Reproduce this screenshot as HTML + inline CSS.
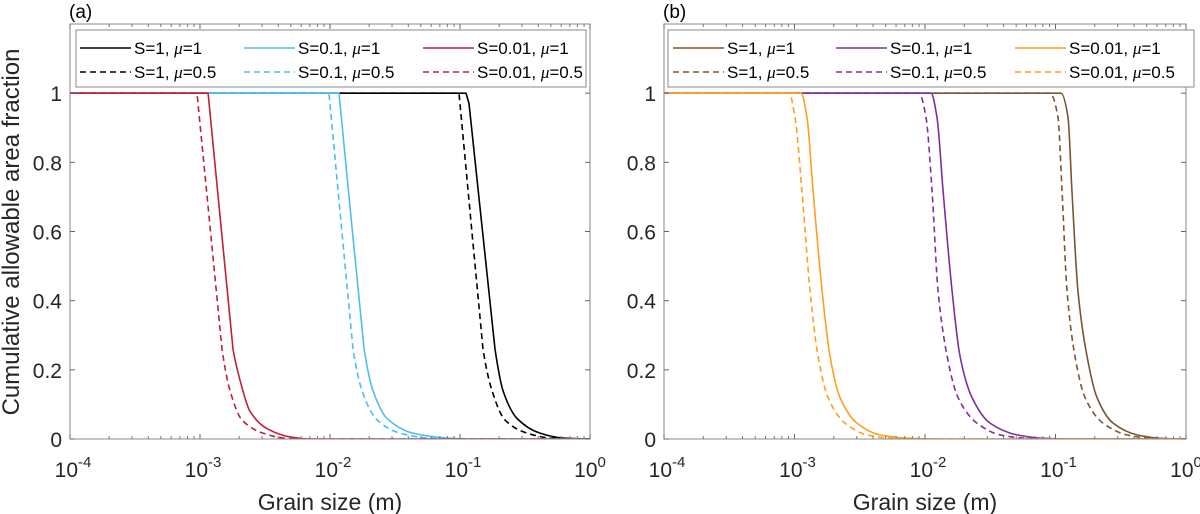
<!DOCTYPE html>
<html><head><meta charset="utf-8"><style>
html,body{margin:0;padding:0;background:#fff;}
svg{display:block;font-family:"Liberation Sans",sans-serif;}
</style></head><body>
<svg id="fig" width="1200" height="514" viewBox="0 0 1200 514" xmlns="http://www.w3.org/2000/svg"></svg>
<script>
// ---- data ----
const yTicks = [0, 0.2, 0.4, 0.6, 0.8, 1];
const yTickLabels = ["0", "0.2", "0.4", "0.6", "0.8", "1"];
const xDecades = [-4, -3, -2, -1, 0];
// panel (a): log10 grain size and fraction
const aBlackSolidX = [-4, -0.954, -0.931, -0.831, -0.731, -0.669, -0.562, -0.385, -0.208, 0];
const aBlackSolidY = [1, 1, 0.97, 0.615, 0.26, 0.14, 0.06, 0.017, 0.003, 0];
const aBlackDashX = [-4, -1.008, -0.916, -0.823, -0.754, -0.654, -0.485, -0.308, -0.115, 0];
const aBlackDashY = [1, 1, 0.63, 0.26, 0.14, 0.055, 0.017, 0.003, 0, 0];
const aBlueSolidX = [-4, -1.931, -1.835, -1.738, -1.669, -1.562, -1.362, -1.1, -0.923, 0];
const aBlueSolidY = [1, 1, 0.63, 0.26, 0.14, 0.06, 0.017, 0.003, 0, 0];
const aBlueDashX = [-4, -2.008, -1.916, -1.823, -1.754, -1.638, -1.462, -1.254, -1.077, 0];
const aBlueDashY = [1, 1, 0.63, 0.26, 0.14, 0.055, 0.017, 0.003, 0, 0];
const aRedSolidX = [-4, -2.938, -2.842, -2.746, -2.692, -2.615, -2.485, -2.308, -2.154, 0];
const aRedSolidY = [1, 1, 0.63, 0.26, 0.17, 0.08, 0.03, 0.006, 0, 0];
const aRedDashX = [-4, -3.023, -2.927, -2.831, -2.769, -2.677, -2.515, -2.362, -2.231, 0];
const aRedDashY = [1, 1, 0.63, 0.26, 0.14, 0.055, 0.017, 0.003, 0, 0];
// panel (b)
const bCurveY = [1, 1, 0.93, 0.72, 0.43, 0.24, 0.12, 0.046, 0.012, 0.002, 0, 0];
const bBrownSolidX = [-4, -0.958, -0.904, -0.874, -0.828, -0.759, -0.682, -0.559, -0.375, -0.199, -0.05, 0];
const bBrownDashX = [-4, -1.042, -0.981, -0.950, -0.912, -0.851, -0.774, -0.636, -0.452, -0.276, -0.1, 0];
const bPurpleSolidX = [-4, -1.954, -1.908, -1.862, -1.793, -1.732, -1.640, -1.502, -1.295, -1.096, -0.9, 0];
const bPurpleDashX = [-4, -2.046, -1.992, -1.946, -1.900, -1.831, -1.747, -1.602, -1.425, -1.218, -1.0, 0];
const bOrangeSolidX = [-4, -2.950, -2.904, -2.858, -2.789, -2.728, -2.651, -2.521, -2.345, -2.115, -1.9, 0];
const bOrangeDashX = [-4, -3.042, -2.996, -2.943, -2.881, -2.820, -2.743, -2.613, -2.444, -2.245, -2.0, 0];

const NS = "http://www.w3.org/2000/svg";
const svg = document.getElementById("fig");
function mk(tag, attrs, parent) {
  const e = document.createElementNS(NS, tag);
  for (const k in attrs) e.setAttribute(k, attrs[k]);
  (parent || svg).appendChild(e);
  return e;
}
const TOP = 24, BOT = 439, YMAX = 1.2;
function yScale(v) { return BOT - v / YMAX * (BOT - TOP); }

// monotone cubic path; segments whose both ends are above straightY are drawn straight
function monoPath(px, py, vy, straightY) {
  const n = px.length;
  const d = [], m = new Array(n).fill(0);
  for (let i = 0; i < n - 1; i++) d.push((py[i + 1] - py[i]) / Math.max(px[i + 1] - px[i], 1e-6));
  m[0] = d[0]; m[n - 1] = d[n - 2];
  for (let i = 1; i < n - 1; i++) {
    if (d[i - 1] * d[i] <= 0) m[i] = 0;
    else {
      const h0 = px[i] - px[i - 1], h1 = px[i + 1] - px[i];
      const w1 = 2 * h1 + h0, w2 = h1 + 2 * h0;
      m[i] = (w1 + w2) / (w1 / d[i - 1] + w2 / d[i]);
    }
  }
  let s = "M" + px[0].toFixed(1) + "," + py[0].toFixed(1);
  for (let i = 0; i < n - 1; i++) {
    if (vy[i] >= straightY && vy[i + 1] >= straightY) {
      s += "L" + px[i + 1].toFixed(1) + "," + py[i + 1].toFixed(1);
      continue;
    }
    const h = px[i + 1] - px[i];
    s += "C" + (px[i] + h / 3).toFixed(1) + "," + (py[i] + m[i] * h / 3).toFixed(1) + " " +
      (px[i + 1] - h / 3).toFixed(1) + "," + (py[i + 1] - m[i + 1] * h / 3).toFixed(1) + " " +
      px[i + 1].toFixed(1) + "," + py[i + 1].toFixed(1);
  }
  return s;
}

function panel(id, L, R, letter, series, legend, straightY) {
  const g = mk("g", {});
  
  
  const xs = v => L + (v + 4) / 4 * (R - L);
  const cp = mk("clipPath", { id: "clip" + id }, g);
  mk("rect", { x: L, y: TOP, width: R - L, height: BOT - TOP }, cp);
  const sg = mk("g", { "clip-path": "url(#clip" + id + ")" }, g);
  series.forEach(s => {
    const px = s.x.map(xs), py = s.y.map(yScale);
    const p = mk("path", { d: monoPath(px, py, s.y, straightY), fill: "none", stroke: s.color, "stroke-width": 1.6, "stroke-linejoin": "round" }, sg);
    if (s.dash) p.setAttribute("stroke-dasharray", "6 4");
    
    
  });
  const box = mk("rect", { x: L, y: TOP, width: R - L, height: BOT - TOP, fill: "none", stroke: "#8a8a8a", "stroke-width": 1 }, g);
  
  
  xDecades.forEach((dcd, i) => {
    const x = xs(dcd);
    mk("line", { x1: x, y1: BOT, x2: x, y2: BOT - 5, stroke: "#666" }, g);
    mk("line", { x1: x, y1: TOP, x2: x, y2: TOP + 5, stroke: "#666" }, g);
    const t = mk("text", { x: x + (i === 4 ? 0 : 3), y: 477, "font-size": 21, fill: "#262626", "text-anchor": "middle" }, g);
    t.textContent = "10";
    const sup = mk("tspan", { dy: -10, "font-size": 15 }, t);
    sup.textContent = String(dcd);
    
    
    if (i < 4) for (let m = 2; m <= 9; m++) {
      const xm = xs(dcd + Math.log10(m));
      mk("line", { x1: xm, y1: BOT, x2: xm, y2: BOT - 3, stroke: "#777" }, g);
      mk("line", { x1: xm, y1: TOP, x2: xm, y2: TOP + 3, stroke: "#777" }, g);
    }
  });
  yTicks.forEach((v, i) => {
    const y = yScale(v);
    mk("line", { x1: L, y1: y, x2: L + 5, y2: y, stroke: "#666" }, g);
    mk("line", { x1: R, y1: y, x2: R - 5, y2: y, stroke: "#666" }, g);
    const t = mk("text", { x: L - 8, y: y + 8, "font-size": 21, fill: "#262626", "text-anchor": "end" }, g);
    t.textContent = yTickLabels[i];
    
    
  });
  const xl = mk("text", { x: (L + R) / 2, y: 510, "font-size": 23, fill: "#262626", "text-anchor": "middle" }, g);
  xl.textContent = "Grain size (m)";
  
  
  const pl = mk("text", { x: L - 1, y: 18, "font-size": 19, fill: "#000" }, g);
  pl.textContent = "(" + letter + ")";
  
  
  const lg = mk("g", {}, g);
  
  
  mk("rect", { x: legend.x0, y: 30, width: legend.x1 - legend.x0, height: 57, fill: "#fff", stroke: "#8a8a8a" }, lg);
  series.forEach((s, i) => {
    const col = legend.cols[Math.floor(i / 2)];
    const y = i % 2 ? 72 : 48;
    mk("line", { x1: col, y1: y, x2: col + 51, y2: y, stroke: s.color, "stroke-width": 1.6, "stroke-dasharray": s.dash ? "6 4" : "none" }, lg);
    const t = mk("text", { x: col + 54, y: y + 6, "font-size": 17, fill: "#000" }, lg);
    t.innerHTML = s.label;
    
    
  });
}
const mu = '<tspan font-family="Liberation Serif" font-style="italic">μ</tspan>';
panel("a", 70, 590, "a", [
  { x: aBlackSolidX, y: aBlackSolidY, color: "#000", dash: false, name: "s1-mu1-line", label: "S=1, " + mu + "=1" },
  { x: aBlackDashX, y: aBlackDashY, color: "#000", dash: true, name: "s1-mu05-line", label: "S=1, " + mu + "=0.5" },
  { x: aBlueSolidX, y: aBlueSolidY, color: "#4DBEEE", dash: false, name: "s01-mu1-line", label: "S=0.1, " + mu + "=1" },
  { x: aBlueDashX, y: aBlueDashY, color: "#4DBEEE", dash: true, name: "s01-mu05-line", label: "S=0.1, " + mu + "=0.5" },
  { x: aRedSolidX, y: aRedSolidY, color: "#C0203A", dash: false, name: "s001-mu1-line", label: "S=0.01, " + mu + "=1" },
  { x: aRedDashX, y: aRedDashY, color: "#C0203A", dash: true, name: "s001-mu05-line", label: "S=0.01, " + mu + "=0.5" }
], { x0: 76, x1: 586, cols: [80, 244, 423] }, 0.25);
panel("b", 664, 1186, "b", [
  { x: bBrownSolidX, y: bCurveY, color: "#7A5530", dash: false, name: "s1-mu1-line", label: "S=1, " + mu + "=1" },
  { x: bBrownDashX, y: bCurveY, color: "#7A5530", dash: true, name: "s1-mu05-line", label: "S=1, " + mu + "=0.5" },
  { x: bPurpleSolidX, y: bCurveY, color: "#7E2F9E", dash: false, name: "s01-mu1-line", label: "S=0.1, " + mu + "=1" },
  { x: bPurpleDashX, y: bCurveY, color: "#7E2F9E", dash: true, name: "s01-mu05-line", label: "S=0.1, " + mu + "=0.5" },
  { x: bOrangeSolidX, y: bCurveY, color: "#FF9E1F", dash: false, name: "s001-mu1-line", label: "S=0.01, " + mu + "=1" },
  { x: bOrangeDashX, y: bCurveY, color: "#FF9E1F", dash: true, name: "s001-mu05-line", label: "S=0.01, " + mu + "=0.5" }
], { x0: 668, x1: 1194, cols: [673, 836, 1015] }, 2);
const yl = mk("text", { x: 19, y: 232, "font-size": 24, fill: "#262626", "text-anchor": "middle", transform: "rotate(-90 19 232)" });
yl.textContent = "Cumulative allowable area fraction";


</script>
</body></html>
